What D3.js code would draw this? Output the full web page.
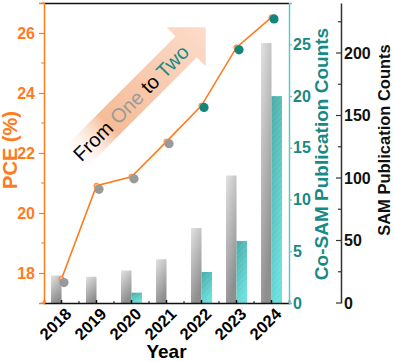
<!DOCTYPE html>
<meta charset="utf-8">
<script src="https://d3js.org/d3.v7.min.js"></script>
<style>
  body { margin: 0; background: #fff; }
  text { font-family: "Liberation Sans", Arial, sans-serif; }
</style>
<div id="chart"></div>
<script>

// data
var years = ["2018", "2019", "2020", "2021", "2022", "2023", "2024"];
var samCounts = [22, 21, 26, 35, 60, 102, 208];
var coSamCounts = [0, 0, 1, 0, 3, 6, 20];
var pceLine = [17.8, 20.91, 21.21, 22.38, 23.58, 25.52, 26.52];
var pceDots = [17.68, 20.79, 21.14, 22.31, 23.52, 25.44, 26.47];
var dotType = ["one", "one", "one", "one", "two", "two", "two"];
var pceTicks = [18, 20, 22, 24, 26];
var coSamTicks = [0, 5, 10, 15, 20, 25];
var samTicks = [0, 50, 100, 150, 200];

var W = 394, H = 362;
var pL = 44, pR = 289, pT = 3, pB = 303, samAxisX = 341;

var orange = "#ff7b1c", tealDark = "#178a86", tealLine = "#5cc9c6";

var svg = d3.select("#chart").append("svg")
  .attr("width", W).attr("height", H);

var defs = svg.append("defs");

// bar gradients
var gg = defs.append("linearGradient").attr("id", "grayGrad")
  .attr("x1", 0).attr("y1", 0).attr("x2", 0.4).attr("y2", 1);
gg.append("stop").attr("offset", 0).attr("stop-color", "#e2e2e2");
gg.append("stop").attr("offset", 1).attr("stop-color", "#8e8e8e");

var tg = defs.append("linearGradient").attr("id", "tealGrad")
  .attr("x1", 0).attr("y1", 0).attr("x2", 0.5).attr("y2", 1);
tg.append("stop").attr("offset", 0).attr("stop-color", "#4aa9a5");
tg.append("stop").attr("offset", 1).attr("stop-color", "#6ae0de");

var hatch = defs.append("pattern").attr("id", "hatch")
  .attr("patternUnits", "userSpaceOnUse").attr("width", 4).attr("height", 4)
  .attr("patternTransform", "rotate(45)");
hatch.append("line").attr("x1", 0).attr("y1", 0).attr("x2", 0).attr("y2", 4)
  .attr("stroke", "#ffffff").attr("stroke-opacity", 0.18).attr("stroke-width", 1);

// arrow gradient
var ag = defs.append("linearGradient").attr("id", "arrowGrad")
  .attr("gradientUnits", "userSpaceOnUse")
  .attr("x1", -190).attr("y1", 0).attr("x2", 0).attr("y2", 0);
ag.append("stop").attr("offset", 0).attr("stop-color", "#ffffff").attr("stop-opacity", 0);
ag.append("stop").attr("offset", 0.28).attr("stop-color", "#f6bc98").attr("stop-opacity", 1);
ag.append("stop").attr("offset", 1).attr("stop-color", "#fcdcca").attr("stop-opacity", 1);

// scales
var x = d3.scaleBand().domain(years).range([pL, pR]);
var yP = d3.scaleLinear().domain([17, 27]).range([pB, pT]);
var yC = d3.scaleLinear().domain([0, 29]).range([pB, pT]);
var yS = d3.scaleLinear().domain([0, 240]).range([pB, pT]);
var barW = 10.5;
function cx(d) { return x(d) + x.bandwidth() / 2; }

// arrow annotation
var arrow = svg.append("g").attr("transform", "translate(205.7,27.3) rotate(-45)");
arrow.append("path")
  .attr("d", "M0,0 L-27.6,27.6 L-27.6,15 L-190,15 L-190,-15 L-27.6,-15 L-27.6,-27.6 Z")
  .attr("fill", "url(#arrowGrad)");

var at = svg.append("text")
  .attr("transform", "translate(131,103) rotate(-45)")
  .attr("text-anchor", "middle").attr("dy", "0.35em")
  .style("font-size", "20px");
at.append("tspan").text("From ").attr("fill", "#000");
at.append("tspan").text("One").attr("fill", "#9a9a9a");
at.append("tspan").text(" to ").attr("fill", "#000");
at.append("tspan").text("Two").attr("fill", tealDark);

// bars
svg.selectAll(".samBar").data(years).enter().append("rect")
  .attr("class", "samBar")
  .attr("x", function(d) { return cx(d) - barW; })
  .attr("y", function(d, i) { return yS(samCounts[i]); })
  .attr("width", barW)
  .attr("height", function(d, i) { return pB - yS(samCounts[i]); })
  .attr("fill", "url(#grayGrad)");

svg.selectAll(".coBar").data(years).enter().append("rect")
  .attr("class", "coBar")
  .attr("x", function(d) { return cx(d); })
  .attr("y", function(d, i) { return yC(coSamCounts[i]); })
  .attr("width", barW)
  .attr("height", function(d, i) { return pB - yC(coSamCounts[i]); })
  .attr("fill", "url(#tealGrad)");

svg.selectAll(".coHatch").data(years).enter().append("rect")
  .attr("x", function(d) { return cx(d); })
  .attr("y", function(d, i) { return yC(coSamCounts[i]); })
  .attr("width", barW)
  .attr("height", function(d, i) { return pB - yC(coSamCounts[i]); })
  .attr("fill", "url(#hatch)");

// PCE line
var line = d3.line()
  .x(function(d, i) { return cx(years[i]); })
  .y(function(d) { return yP(d); });
svg.append("path").datum(pceLine)
  .attr("d", line)
  .attr("fill", "none").attr("stroke", orange).attr("stroke-width", 1.6);

svg.selectAll(".pceMark").data(pceLine).enter().append("circle")
  .attr("cx", function(d, i) { return cx(years[i]); })
  .attr("cy", function(d) { return yP(d); })
  .attr("r", 2.6)
  .attr("fill", "#ffb47a").attr("stroke", orange).attr("stroke-width", 0.8);

svg.selectAll(".pceDot").data(pceDots).enter().append("circle")
  .attr("cx", function(d, i) { return cx(years[i]) + 2.5; })
  .attr("cy", function(d) { return yP(d); })
  .attr("r", 4.6)
  .attr("fill", function(d, i) { return dotType[i] == "one" ? "#999999" : "#13857f"; });

// frame
svg.append("line").attr("x1", pL).attr("x2", pR).attr("y1", pT + 0.5).attr("y2", pT + 0.5)
  .attr("stroke", "#111").attr("stroke-width", 1.5);

// bottom axis
var xAxis = svg.append("g").attr("transform", "translate(0," + pB + ")")
  .call(d3.axisBottom(x).tickSize(-3).tickFormat(""));
xAxis.select(".domain").attr("stroke", "#111").attr("stroke-width", 1.5);
xAxis.selectAll(".tick line").attr("stroke", "#111").attr("stroke-width", 1.5);
svg.selectAll(".xMinor").data(years.slice(1)).enter().append("line")
  .attr("x1", function(d) { return x(d); }).attr("x2", function(d) { return x(d); })
  .attr("y1", pB).attr("y2", pB - 2)
  .attr("stroke", "#111").attr("stroke-width", 1);

svg.selectAll(".yearLabel").data(years).enter().append("text")
  .attr("transform", function(d) { return "translate(" + (cx(d) + 11) + "," + (pB + 12) + ") rotate(-45)"; })
  .attr("text-anchor", "end")
  .style("font-size", "16.5px").style("font-weight", "bold")
  .text(function(d) { return d; });

svg.append("text").attr("x", (pL + pR) / 2).attr("y", 358)
  .attr("text-anchor", "middle")
  .style("font-size", "19px").style("font-weight", "bold")
  .text("Year");

// left PCE axis
var pAxis = svg.append("g").attr("transform", "translate(" + pL + ",0)")
  .call(d3.axisLeft(yP).tickValues(pceTicks).tickSize(5).tickPadding(4));
pAxis.select(".domain").attr("stroke", orange).attr("stroke-width", 1.5);
pAxis.selectAll(".tick line").attr("stroke", orange).attr("stroke-width", 1.2);
pAxis.selectAll(".tick text").attr("fill", orange)
  .style("font-size", "16px").style("font-weight", "bold");
svg.selectAll(".pMinor").data(d3.range(17, 28, 2)).enter().append("line")
  .attr("x1", pL).attr("x2", pL - 3)
  .attr("y1", function(d) { return yP(d); }).attr("y2", function(d) { return yP(d); })
  .attr("stroke", orange).attr("stroke-width", 1);

svg.append("text")
  .attr("transform", "translate(17,150) rotate(-90)")
  .attr("text-anchor", "middle").attr("fill", orange)
  .style("font-size", "20px").style("font-weight", "bold")
  .text("PCE (%)");

// right Co-SAM axis
var cAxis = svg.append("g").attr("transform", "translate(" + pR + ",0)")
  .call(d3.axisRight(yC).tickValues(coSamTicks).tickSize(3).tickPadding(1));
cAxis.select(".domain").attr("stroke", tealLine).attr("stroke-width", 1.5);
cAxis.selectAll(".tick line").attr("stroke", tealLine).attr("stroke-width", 1.2);
cAxis.selectAll(".tick text").attr("fill", tealDark)
  .style("font-size", "16px").style("font-weight", "bold");

svg.append("text")
  .attr("transform", "translate(328,154) rotate(-90)")
  .attr("text-anchor", "middle").attr("fill", tealDark)
  .style("font-size", "19px").style("font-weight", "bold")
  .text("Co-SAM Publication Counts");

// offset SAM axis
var sAxis = svg.append("g").attr("transform", "translate(" + samAxisX + ",0)")
  .call(d3.axisRight(yS).tickValues(samTicks).tickSize(0).tickPadding(3));
sAxis.select(".domain").attr("stroke", "#333").attr("stroke-width", 1.5);
sAxis.selectAll(".tick text").attr("fill", "#111")
  .style("font-size", "16px").style("font-weight", "bold");
svg.selectAll(".sTick").data(d3.range(0, 240, 25)).enter().append("line")
  .attr("x1", samAxisX).attr("x2", function(d) { return samAxisX - (d % 50 == 0 ? 5 : 3); })
  .attr("y1", function(d) { return yS(d); }).attr("y2", function(d) { return yS(d); })
  .attr("stroke", "#333").attr("stroke-width", 1.2);

svg.append("text")
  .attr("transform", "translate(390,140) rotate(-90)")
  .attr("text-anchor", "middle").attr("fill", "#111")
  .style("font-size", "16.5px").style("font-weight", "bold")
  .text("SAM Publication Counts");

</script>
